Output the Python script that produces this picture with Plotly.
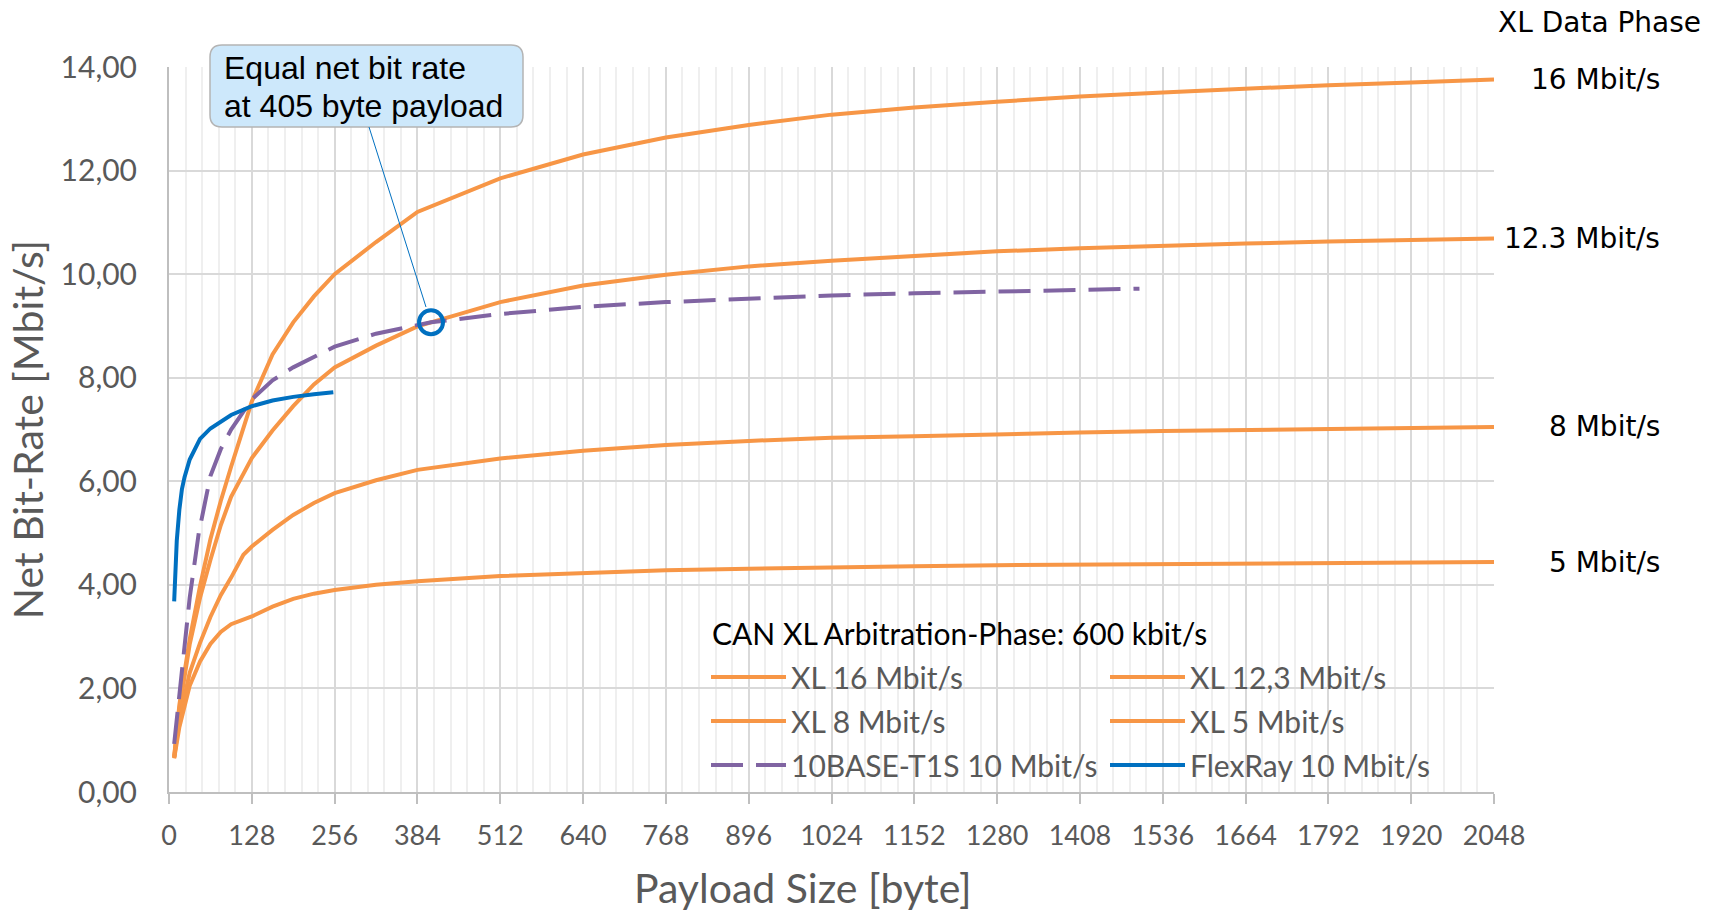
import plotly.graph_objects as go

# ---------------- data ----------------
PAYLOAD = [8, 16, 32, 48, 64, 80, 96, 115, 128, 160, 192, 224, 256, 320, 384,
           512, 640, 768, 896, 1024, 1152, 1280, 1408, 1536, 1664, 1792, 1920, 2048]
XL_16 = [0.68, 1.68, 2.95, 3.98, 4.88, 5.62, 6.28, 7.05, 7.54, 8.45, 9.07, 9.57, 10.00, 10.62, 11.20,
         11.85, 12.31, 12.64, 12.88, 13.08, 13.22, 13.33, 13.43, 13.51, 13.58, 13.65, 13.70, 13.76]
XL_12_3 = [0.67, 1.60, 2.85, 3.75, 4.48, 5.15, 5.70, 6.15, 6.45, 6.98, 7.45, 7.87, 8.20, 8.62, 8.99,
           9.46, 9.78, 9.99, 10.15, 10.26, 10.35, 10.44, 10.50, 10.55, 10.59, 10.63, 10.66, 10.69]
XL_8 = [0.66, 1.40, 2.30, 2.88, 3.38, 3.80, 4.14, 4.58, 4.74, 5.06, 5.35, 5.58, 5.77, 6.02, 6.22,
        6.44, 6.59, 6.70, 6.78, 6.84, 6.87, 6.91, 6.94, 6.97, 6.99, 7.01, 7.03, 7.05]
XL_5 = [0.65, 1.25, 2.05, 2.52, 2.86, 3.09, 3.24, 3.34, 3.39, 3.58, 3.73, 3.83, 3.90, 4.00, 4.07,
        4.17, 4.23, 4.28, 4.31, 4.34, 4.36, 4.38, 4.39, 4.40, 4.41, 4.42, 4.43, 4.44]

T1S_PAYLOAD = [8, 16, 24, 32, 46, 64, 80, 96, 128, 160, 192, 256, 320, 405, 512, 640, 768, 896,
               1024, 1152, 1280, 1408, 1500]
T1S_10 = [0.93, 1.85, 2.85, 3.75, 5.00, 6.10, 6.62, 7.00, 7.58, 7.95, 8.20, 8.60, 8.85, 9.07, 9.23,
          9.37, 9.46, 9.53, 9.59, 9.63, 9.67, 9.70, 9.72]

FLEX_PAYLOAD = [8, 10, 12, 16, 20, 24, 32, 48, 64, 96, 128, 160, 192, 224, 254]
FLEXRAY_10 = [3.68, 4.35, 4.85, 5.45, 5.85, 6.08, 6.42, 6.82, 7.02, 7.28, 7.45, 7.56, 7.63, 7.68, 7.72]

EQUAL_PAYLOAD = [405]
EQUAL_RATE = [9.07]

X_TICKS = [0, 128, 256, 384, 512, 640, 768, 896, 1024, 1152, 1280, 1408, 1536, 1664, 1792, 1920, 2048]
Y_TICKS = [0, 2, 4, 6, 8, 10, 12, 14]
Y_TICK_TEXT = ["0,00", "2,00", "4,00", "6,00", "8,00", "10,00", "12,00", "14,00"]

SERIES = [
    ("XL 16 Mbit/s", XL_16, "16 Mbit/s", "legend"),
    ("XL 12,3 Mbit/s", XL_12_3, "12.3 Mbit/s", "legend2"),
    ("XL 8 Mbit/s", XL_8, "8 Mbit/s", "legend"),
    ("XL 5 Mbit/s", XL_5, "5 Mbit/s", "legend2"),
]

# ---------------- styling ----------------
ORANGE = "#F79646"
PURPLE = "#8064A2"
BLUE = "#0070C0"
GRAY_TXT = "#595959"
W, H = 1717, 915
ML, MR, MT, MB = 169, 223, 67, 123
PW, PH = W - ML - MR, H - MT - MB


def px_x(p):
    return (p - ML) / PW


def px_y(p):
    return (H - MB - p) / PH


fig = go.Figure()

for name, vals, _, lg in SERIES:
    fig.add_trace(go.Scatter(
        x=PAYLOAD, y=vals, mode="lines", name=name, legend=lg, legendgroup=name,
        line=dict(color=ORANGE, width=4)))

fig.add_trace(go.Scatter(
    x=T1S_PAYLOAD, y=T1S_10, mode="lines", name="10BASE-T1S 10 Mbit/s", legend="legend",
    legendgroup="t1s", line=dict(color=PURPLE, width=4, dash="32px,13px")))
fig.add_trace(go.Scatter(
    x=FLEX_PAYLOAD, y=FLEXRAY_10, mode="lines", name="FlexRay 10 Mbit/s", legend="legend2",
    legendgroup="flex", line=dict(color=BLUE, width=4)))
fig.add_trace(go.Scatter(
    x=EQUAL_PAYLOAD, y=EQUAL_RATE, mode="markers", showlegend=False,
    marker=dict(symbol="circle-open", size=24, color=BLUE, line=dict(width=4, color=BLUE))))

# right-hand labels at the curve end values
for name, vals, label, _ in SERIES:
    fig.add_annotation(x=px_x(1662), xref="paper", xanchor="right", y=vals[-1], yref="y",
                       yanchor="middle", text=label, showarrow=False,
                       font=dict(family="DejaVu Sans", size=28, color="black"))
fig.add_annotation(x=px_x(1703), xref="paper", xanchor="right", y=px_y(22), yref="paper",
                   yanchor="middle", text="XL Data Phase", showarrow=False,
                   font=dict(family="DejaVu Sans", size=28, color="black"))

# callout box with rounded corners
bx0, bx1, by0, by1, r = 210, 523, 45, 127, 12
path = (f"M {px_x(bx0 + r)},{px_y(by0)} L {px_x(bx1 - r)},{px_y(by0)} "
        f"Q {px_x(bx1)},{px_y(by0)} {px_x(bx1)},{px_y(by0 + r)} "
        f"L {px_x(bx1)},{px_y(by1 - r)} Q {px_x(bx1)},{px_y(by1)} {px_x(bx1 - r)},{px_y(by1)} "
        f"L {px_x(bx0 + r)},{px_y(by1)} Q {px_x(bx0)},{px_y(by1)} {px_x(bx0)},{px_y(by1 - r)} "
        f"L {px_x(bx0)},{px_y(by0 + r)} Q {px_x(bx0)},{px_y(by0)} {px_x(bx0 + r)},{px_y(by0)} Z")
fig.add_shape(type="path", path=path, xref="paper", yref="paper",
              fillcolor="#CDE8FB", line=dict(color="#B4B4B4", width=1.5), layer="above")
fig.add_shape(type="line", xref="paper", yref="paper", x0=px_x(369), y0=px_y(127),
              x1=px_x(426), y1=px_y(307), line=dict(color=BLUE, width=1), layer="above")
for txt, yc in (("Equal net bit rate", 68), ("at 405 byte payload", 106)):
    fig.add_annotation(x=px_x(222), xref="paper", xanchor="left", y=px_y(yc), yref="paper",
                       yanchor="middle", align="left", showarrow=False, text=txt,
                       font=dict(family="Liberation Sans", size=32, color="black"))

# x-axis title (placed like the original, slightly left of centre)
fig.add_annotation(x=px_x(803), xref="paper", xanchor="center", y=px_y(887), yref="paper",
                   yanchor="middle", text="Payload Size [byte]", showarrow=False,
                   font=dict(family="Lato", size=41, color=GRAY_TXT))

# legend heading
fig.add_annotation(x=px_x(710), xref="paper", xanchor="left", y=px_y(633), yref="paper",
                   yanchor="middle", text="CAN XL Arbitration-Phase: 600 kbit/s", showarrow=False,
                   font=dict(family="Lato", size=30, color="black"))

legfont = dict(family="Lato", size=30, color=GRAY_TXT)

fig.update_layout(
    width=W, height=H,
    margin=dict(l=ML, r=MR, t=MT, b=MB, autoexpand=False),
    plot_bgcolor="white", paper_bgcolor="white",
    xaxis=dict(range=[0, 2048], tickvals=X_TICKS, ticktext=[str(v) for v in X_TICKS],
               showgrid=True, gridcolor="#D9D9D9", gridwidth=2,
               showline=True, linecolor="#BFBFBF", linewidth=2,
               ticks="outside", ticklen=10, tickwidth=2, tickcolor="#BFBFBF",
               tickfont=dict(family="Lato", size=27, color=GRAY_TXT),
               ticklabelstandoff=9, zeroline=False, automargin=False,
               minor=dict(tickmode="linear", tick0=0, dtick=25.6, showgrid=True,
                          gridcolor="#EFEFEF", gridwidth=2, ticks="")),
    yaxis=dict(range=[0, 14], tickvals=Y_TICKS, ticktext=Y_TICK_TEXT,
               showgrid=True, gridcolor="#D9D9D9", gridwidth=2,
               showline=True, linecolor="#BFBFBF", linewidth=2, ticks="",
               tickfont=dict(family="Lato", size=30, color=GRAY_TXT),
               ticklabelstandoff=24, zeroline=False, automargin=False,
               title=dict(text="Net Bit-Rate [Mbit/s]", standoff=4,
                          font=dict(family="Lato", size=41, color=GRAY_TXT))),
    legend=dict(x=px_x(706), y=px_y(651), xanchor="left", yanchor="top",
                bgcolor="rgba(0,0,0,0)", borderwidth=0, font=legfont, itemwidth=75,
                traceorder="grouped", tracegroupgap=2),
    legend2=dict(x=px_x(1105), y=px_y(651), xanchor="left", yanchor="top",
                 bgcolor="rgba(0,0,0,0)", borderwidth=0, font=legfont, itemwidth=75,
                 traceorder="grouped", tracegroupgap=2),
    showlegend=True,
)

fig.write_html("out.html", config={"displayModeBar": False},
               post_script="document.body.style.margin='0';")
